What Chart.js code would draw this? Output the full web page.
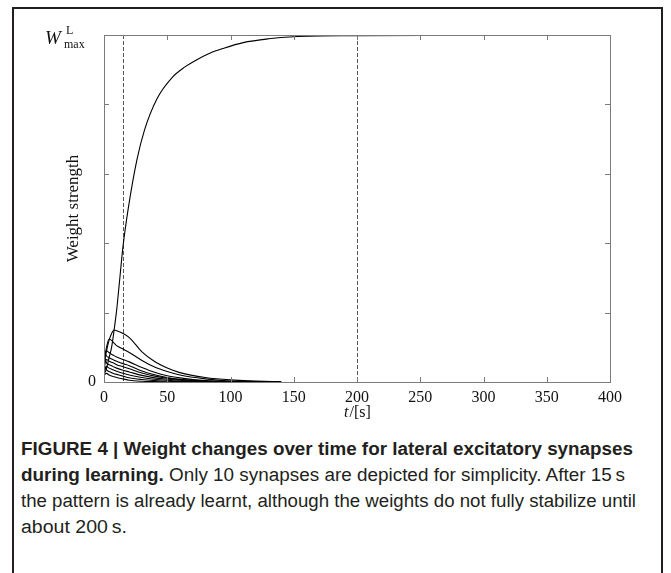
<!DOCTYPE html>
<html>
<head>
<meta charset="utf-8">
<script src="https://cdn.jsdelivr.net/npm/chart.js@4.4.1/dist/chart.umd.min.js"></script>
<style>
  html, body { margin: 0; padding: 0; background: #fff; }
  body { width: 671px; height: 573px; position: relative; overflow: hidden; }
  #box { position: absolute; left: 12px; top: 7px; width: 651px; height: 620px;
         border: 2px solid #231f20; box-sizing: border-box; }
  #chartWrap { position: absolute; left: 0; top: 0; width: 671px; height: 430px; }
  #caption { position: absolute; left: 21px; top: 436px; font-family: "Liberation Sans", Arial, sans-serif;
             font-size: 18px; line-height: 26px; color: #231f20; white-space: nowrap; }
  #caption div { display: inline-block; transform-origin: 0 50%; }
  #caption b { font-weight: bold; }
</style>
</head>
<body>
<div id="box"></div>
<div id="chartWrap"><canvas id="c" width="671" height="430"></canvas></div>
<div id="caption">
<div data-w="612"><b>FIGURE 4 | Weight changes over time for lateral excitatory synapses</b></div><br>
<div data-w="604"><b>during learning.</b> Only 10 synapses are depicted for simplicity. After 15&#8201;s</div><br>
<div data-w="615">the pattern is already learnt, although the weights do not fully stabilize until</div><br>
<div data-w="106">about 200&#8201;s.</div>
</div>
<script>
// ---- data (weight strength as fraction of W_max^L) ----
const mainT = [0, 2, 4, 6, 8, 10, 12, 15, 19, 26, 32, 42, 54, 64, 72, 84, 94, 110, 130, 150, 200, 280];
const mainW = [0.02, 0.04, 0.07, 0.1, 0.15, 0.207, 0.28, 0.39, 0.496, 0.64, 0.726, 0.817, 0.878, 0.908, 0.926, 0.948, 0.961, 0.978, 0.989, 0.995, 0.998, 0.999];

const decayT = [0, 2, 4, 6, 8, 10, 15, 20, 30, 40, 50, 60, 80, 100, 120, 140];
const synA = [0.05, 0.09, 0.12, 0.14, 0.15, 0.148, 0.14, 0.128, 0.087, 0.059, 0.04, 0.027, 0.013, 0.006, 0.003, 0.001];
const synB = [0.06, 0.1, 0.124, 0.12, 0.112, 0.105, 0.095, 0.085, 0.062, 0.043, 0.03, 0.02, 0.009, 0.003, 0.001, 0];
const synC = [0.07, 0.09, 0.085, 0.08, 0.076, 0.072, 0.065, 0.058, 0.042, 0.028, 0.018, 0.012, 0.004, 0.001, 0, 0];
const synD = [0.09, 0.075, 0.07, 0.066, 0.063, 0.06, 0.053, 0.047, 0.032, 0.021, 0.013, 0.008, 0.003, 0.001, 0, 0];
const synE = [0.04, 0.065, 0.06, 0.057, 0.054, 0.05, 0.044, 0.038, 0.026, 0.017, 0.011, 0.007, 0.002, 0, 0, 0];
const synF = [0.08, 0.055, 0.05, 0.047, 0.043, 0.04, 0.034, 0.029, 0.019, 0.012, 0.008, 0.005, 0.001, 0, 0, 0];
const synG = [0.03, 0.045, 0.04, 0.037, 0.034, 0.031, 0.025, 0.02, 0.013, 0.008, 0.005, 0.003, 0.001, 0, 0, 0];
const synH = [0.05, 0.035, 0.03, 0.027, 0.024, 0.022, 0.017, 0.012, 0.007, 0.004, 0.002, 0.001, 0, 0, 0, 0];
const synI = [0.02, 0.025, 0.02, 0.017, 0.015, 0.013, 0.009, 0.005, 0.002, 0.001, 0, 0, 0, 0, 0, 0];

const markerTimes = [15, 200];
const xTicks = [0, 50, 100, 150, 200, 250, 300, 350, 400];
const yTicks = [0, 0.2, 0.4, 0.6, 0.8, 1];

const serif = '"Liberation Serif", "DejaVu Serif", serif';

// fit caption lines to their widths in the reference
document.querySelectorAll('#caption div').forEach(d => {
  const w = d.getBoundingClientRect().width;
  const target = parseFloat(d.dataset.w);
  d.style.transform = 'scaleX(' + (target / w) + ')';
});

function pts(t, v) { return t.map((x, i) => ({ x: x, y: v[i] })); }
function ds(t, v) {
  return { data: pts(t, v), borderColor: '#000', borderWidth: 1.1, pointRadius: 0,
           fill: false, cubicInterpolationMode: 'monotone' };
}

const datasets = [
  ds(mainT, mainW),
  ds(decayT, synA), ds(decayT, synB), ds(decayT, synC), ds(decayT, synD),
  ds(decayT, synE), ds(decayT, synF), ds(decayT, synG), ds(decayT, synH), ds(decayT, synI)
];

const framePlugin = {
  id: 'frame',
  beforeDatasetsDraw(chart) {
    const { ctx, chartArea: a, scales } = chart;
    ctx.save();
    ctx.strokeStyle = '#555';
    ctx.lineWidth = 1;
    ctx.setLineDash([4, 2]);
    markerTimes.forEach(t => {
      const x = Math.round(scales.x.getPixelForValue(t)) + 0.5;
      ctx.beginPath(); ctx.moveTo(x, a.top); ctx.lineTo(x, a.bottom); ctx.stroke();
    });
    ctx.restore();
  },
  afterDraw(chart) {
    const { ctx, chartArea: a, scales } = chart;
    ctx.save();
    ctx.strokeStyle = '#7a7a7a';
    ctx.lineWidth = 1;
    ctx.strokeRect(Math.round(a.left) + 0.5, Math.round(a.top) + 0.5,
                   Math.round(a.right - a.left), Math.round(a.bottom - a.top));
    const L = 5;
    ctx.beginPath();
    xTicks.forEach(v => {
      const x = Math.round(scales.x.getPixelForValue(v)) + 0.5;
      ctx.moveTo(x, a.bottom); ctx.lineTo(x, a.bottom - L);
      ctx.moveTo(x, a.top); ctx.lineTo(x, a.top + L);
    });
    yTicks.forEach(v => {
      const y = Math.round(scales.y.getPixelForValue(v)) + 0.5;
      ctx.moveTo(a.left, y); ctx.lineTo(a.left + L, y);
      ctx.moveTo(a.right, y); ctx.lineTo(a.right - L, y);
    });
    ctx.stroke();

    // y-axis max label W^L_max
    ctx.fillStyle = '#111';
    const yTop = scales.y.getPixelForValue(1);
    ctx.textBaseline = 'alphabetic';
    ctx.textAlign = 'left';
    ctx.font = 'italic 19px ' + serif;
    ctx.fillText('W', 45, yTop + 9);
    ctx.font = '12px ' + serif;
    ctx.fillText('L', 66, yTop - 1);
    ctx.fillText('max', 64, yTop + 13);

    // y-axis title
    ctx.save();
    ctx.translate(78, (a.top + a.bottom) / 2);
    ctx.rotate(-Math.PI / 2);
    ctx.textAlign = 'center';
    ctx.textBaseline = 'alphabetic';
    ctx.font = '17px ' + serif;
    ctx.fillText('Weight strength', 0, 0);
    ctx.restore();

    // x-axis title t/[s]
    const xc = (a.left + a.right) / 2;
    ctx.textAlign = 'left';
    ctx.font = 'italic 16px ' + serif;
    const w1 = ctx.measureText('t').width;
    ctx.font = '16px ' + serif;
    const w2 = ctx.measureText('/[s]').width;
    const x0 = xc - (w1 + w2) / 2;
    ctx.font = 'italic 16px ' + serif;
    ctx.fillText('t', x0, 417);
    ctx.font = '16px ' + serif;
    ctx.fillText('/[s]', x0 + w1 + 1, 417);
    ctx.restore();
  }
};

new Chart(document.getElementById('c'), {
  type: 'line',
  data: { datasets: datasets },
  options: {
    responsive: false,
    animation: false,
    layout: { padding: { left: 0, right: 61, top: 35, bottom: 0 } },
    plugins: { legend: { display: false }, tooltip: { enabled: false } },
    scales: {
      x: {
        type: 'linear', min: 0, max: 400,
        afterFit(s) { s.height = 48; },
        afterBuildTicks(s) { s.ticks = xTicks.map(v => ({ value: v })); },
        grid: { display: false, drawTicks: false },
        border: { display: false },
        ticks: { padding: 6, color: '#111', font: { family: serif, size: 16 }, maxRotation: 0 }
      },
      y: {
        type: 'linear', min: 0, max: 1,
        afterFit(s) { s.width = 104; },
        afterBuildTicks(s) { s.ticks = yTicks.map(v => ({ value: v })); },
        grid: { display: false, drawTicks: false },
        border: { display: false },
        ticks: { padding: 8, color: '#111', font: { family: serif, size: 16 },
                 callback: v => (v === 0 ? '0' : '') }
      }
    }
  },
  plugins: [framePlugin]
});
</script>
</body>
</html>
